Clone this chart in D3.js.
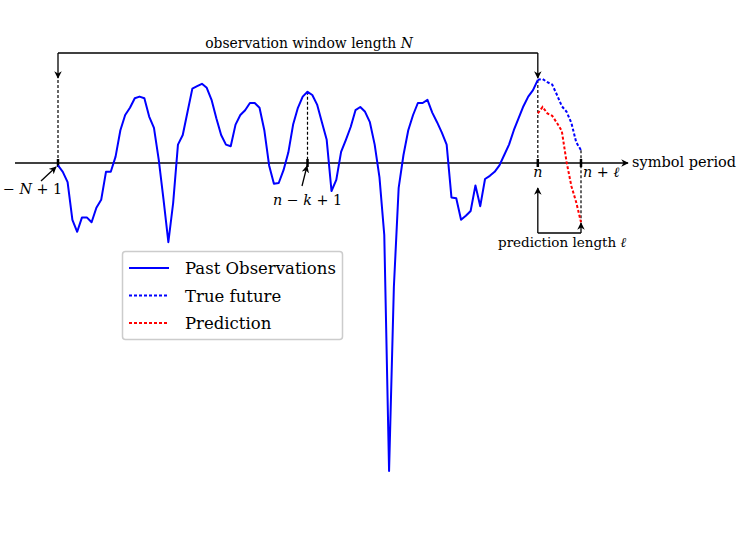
<!DOCTYPE html>
<html>
<head>
<meta charset="utf-8">
<script src="https://cdn.jsdelivr.net/npm/d3@7"></script>
<style>
  html, body { margin: 0; padding: 0; background: #fff; }
  svg { display: block; }
  text { font-family: "DejaVu Serif", "Liberation Serif", serif; fill: #000; }
</style>
</head>
<body>
<svg id="chart" width="747" height="560"></svg>
<script>
// ---- data (sample index -> signal value) ----
const pastValues = [
  -0.03, -0.11, -0.24, -0.71, -0.86, -0.68, -0.68, -0.74, -0.56, -0.46,
  -0.11, -0.11, 0.08, 0.41, 0.60, 0.69, 0.81, 0.83, 0.81, 0.58,
  0.44, 0.04, -0.46, -0.99, -0.50, 0.23, 0.35, 0.64, 0.93, 0.96,
  0.99, 0.94, 0.79, 0.56, 0.35, 0.23, 0.21, 0.48, 0.60, 0.66,
  0.75, 0.75, 0.69, 0.41, -0.03, -0.26, -0.25, -0.09, 0.13, 0.48,
  0.69, 0.83, 0.89, 0.85, 0.73, 0.51, 0.29, -0.35, -0.21, 0.14,
  0.29, 0.45, 0.66, 0.70, 0.64, 0.51, 0.23, -0.18, -0.90, -3.85,
  -1.55, -0.31, 0.10, 0.41, 0.60, 0.75, 0.75, 0.79, 0.63, 0.51,
  0.38, 0.23, -0.43, -0.44, -0.71, -0.66, -0.60, -0.28, -0.54, -0.20,
  -0.16, -0.11, -0.03, 0.10, 0.23, 0.41, 0.56, 0.71, 0.83, 0.91,
  1.04
];
const trueFuture = [1.04, 1.05, 1.01, 0.98, 0.85, 0.71, 0.64, 0.50, 0.26, 0.16];        // indices 100..109
const prediction = [0.62, 0.70, 0.62, 0.59, 0.50, 0.40, 0.01, -0.29, -0.49, -0.74];    // indices 100..109
const pastStart = 0, futureStart = 100, predStart = 100;
const idxStart = 0, idxNK = 52, idxN = 100, idxNL = 109;
const legendLabels = ["Past Observations", "True future", "Prediction"];

// ---- scales ----
const svg = d3.select("#chart");
const x = d3.scaleLinear().domain([0, 109]).range([58, 581]);
const y = d3.scaleLinear().domain([0, 1]).range([163, 83]);
const y0 = y(0);

// markers
const defs = svg.append("defs");
defs.append("marker").attr("id", "arr")
  .attr("viewBox", "0 0 10 10").attr("refX", 9).attr("refY", 5)
  .attr("markerWidth", 7.5).attr("markerHeight", 7.5).attr("markerUnits", "userSpaceOnUse")
  .attr("orient", "auto")
  .append("path").attr("d", "M0,0 L10,5 L0,10 L3,5 Z").attr("fill", "#000");

// ---- horizontal axis ----
svg.append("line").attr("x1", 15).attr("x2", 628).attr("y1", y0).attr("y2", y0)
  .attr("stroke", "#000").attr("stroke-width", 1.5).attr("marker-end", "url(#arr)");
svg.append("text").attr("x", 632).attr("y", y0 + 4).attr("font-size", 14.5).text("symbol period");

// ticks
[idxStart, idxNK, idxN, idxNL].forEach(i => {
  svg.append("line").attr("x1", x(i)).attr("x2", x(i)).attr("y1", y0 - 4).attr("y2", y0 + 4)
    .attr("stroke", "#000").attr("stroke-width", 2.5);
});

// ---- dashed guides ----
const guide = (i, ya, yb) => svg.append("line").attr("x1", x(i)).attr("x2", x(i))
  .attr("y1", ya).attr("y2", yb).attr("stroke", "#000").attr("stroke-width", 1.2)
  .attr("stroke-dasharray", "3,2");
guide(idxStart, 80, y0);
guide(idxNK, y(pastValues[idxNK]), y0);
guide(idxN, 80, y0);
guide(idxNL, y(trueFuture[trueFuture.length - 1]), y(prediction[prediction.length - 1]));

// ---- observation window bracket ----
const topY = 53;
svg.append("path").attr("d", `M${x(idxStart)},${topY} L${x(idxN)},${topY}`)
  .attr("fill", "none").attr("stroke", "#000").attr("stroke-width", 1.3);
svg.append("line").attr("x1", x(idxStart)).attr("x2", x(idxStart)).attr("y1", topY).attr("y2", 78)
  .attr("stroke", "#000").attr("stroke-width", 1.3).attr("marker-end", "url(#arr)");
svg.append("line").attr("x1", x(idxN)).attr("x2", x(idxN)).attr("y1", topY).attr("y2", 78)
  .attr("stroke", "#000").attr("stroke-width", 1.3).attr("marker-end", "url(#arr)");
const tObs = svg.append("text").attr("x", 309).attr("y", 48)
  .attr("text-anchor", "middle").attr("font-size", 13.9);
tObs.append("tspan").text("observation window length ");
tObs.append("tspan").attr("font-style", "italic").text("N");

// ---- prediction length bracket ----
const pY = 233;
svg.append("path").attr("d", `M${x(idxN)},${pY} L${x(idxNL)},${pY}`)
  .attr("stroke", "#000").attr("stroke-width", 1.3).attr("fill", "none");
svg.append("line").attr("x1", x(idxN)).attr("x2", x(idxN)).attr("y1", pY).attr("y2", 188)
  .attr("stroke", "#000").attr("stroke-width", 1.3).attr("marker-end", "url(#arr)");
svg.append("line").attr("x1", x(idxNL)).attr("x2", x(idxNL)).attr("y1", pY).attr("y2", 223)
  .attr("stroke", "#000").attr("stroke-width", 1.3).attr("marker-end", "url(#arr)");
const tPred = svg.append("text").attr("x", 498).attr("y", 247).attr("font-size", 13.5);
tPred.append("tspan").text("prediction length ");
tPred.append("tspan").attr("font-style", "italic").text("ℓ");

// ---- index labels ----
const tStart = svg.append("text").attr("x", 3).attr("y", 194).attr("font-size", 14.3);
tStart.append("tspan").text("− ");
tStart.append("tspan").attr("font-style", "italic").text("N");
tStart.append("tspan").text(" + 1");
svg.append("line").attr("x1", 41).attr("y1", 181).attr("x2", 56).attr("y2", 167)
  .attr("stroke", "#000").attr("stroke-width", 1.3).attr("marker-end", "url(#arr)");

const tNK = svg.append("text").attr("x", 273).attr("y", 205).attr("font-size", 14.3);
tNK.append("tspan").attr("font-style", "italic").text("n");
tNK.append("tspan").text(" − ");
tNK.append("tspan").attr("font-style", "italic").text("k");
tNK.append("tspan").text(" + 1");
svg.append("line").attr("x1", 302).attr("y1", 186).attr("x2", 307).attr("y2", 166)
  .attr("stroke", "#000").attr("stroke-width", 1.3).attr("marker-end", "url(#arr)");

svg.append("text").attr("x", x(idxN)).attr("y", 177).attr("text-anchor", "middle")
  .attr("font-size", 14.3).attr("font-style", "italic").text("n");
const tNL = svg.append("text").attr("x", 583).attr("y", 177).attr("font-size", 14.3);
tNL.append("tspan").attr("font-style", "italic").text("n");
tNL.append("tspan").text(" + ");
tNL.append("tspan").attr("font-style", "italic").text("ℓ");

// ---- series ----
const line = d3.line().x(d => x(d[0])).y(d => y(d[1]));
svg.append("path").datum(pastValues.map((v, i) => [pastStart + i, v]))
  .attr("d", line).attr("fill", "none").attr("stroke", "#0000ff").attr("stroke-width", 2)
  .attr("stroke-linejoin", "round");
svg.append("path").datum(trueFuture.map((v, i) => [futureStart + i, v]))
  .attr("d", line).attr("fill", "none").attr("stroke", "#0000ff").attr("stroke-width", 2)
  .attr("stroke-dasharray", "3,2");
svg.append("path").datum(prediction.map((v, i) => [predStart + i, v]))
  .attr("d", line).attr("fill", "none").attr("stroke", "#ff0000").attr("stroke-width", 2)
  .attr("stroke-dasharray", "3,2");

// ---- legend ----
const lg = svg.append("g");
lg.append("rect").attr("x", 122.5).attr("y", 251.5).attr("width", 220).attr("height", 88)
  .attr("rx", 3).attr("fill", "#fff").attr("stroke", "#cccccc").attr("stroke-width", 1.5);
const styles = [
  { color: "#0000ff", dash: null },
  { color: "#0000ff", dash: "3,2" },
  { color: "#ff0000", dash: "3,2" }
];
legendLabels.forEach((lab, k) => {
  const yy = 268 + k * 27.5;
  lg.append("line").attr("x1", 129).attr("x2", 169).attr("y1", yy).attr("y2", yy)
    .attr("stroke", styles[k].color).attr("stroke-width", 2)
    .attr("stroke-dasharray", styles[k].dash);
  lg.append("text").attr("x", 185).attr("y", yy + 6).attr("font-size", 16.5).text(lab);
});
</script>
</body>
</html>
